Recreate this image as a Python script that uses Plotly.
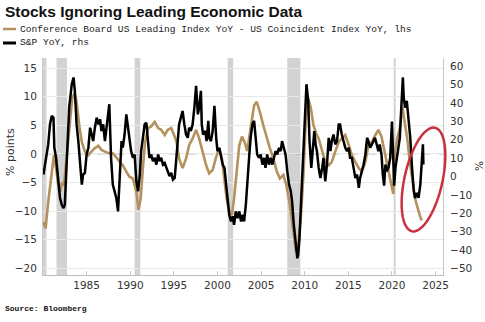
import plotly.graph_objects as go
import math

# ---------------- data ----------------
lead_years = [1980.05, 1980.3, 1980.6, 1980.9, 1981.1, 1981.25, 1981.5, 1981.75, 1981.95, 1982.15, 1982.4, 1982.7,
              1983.0, 1983.35, 1983.6, 1983.85, 1984.15, 1984.45, 1984.8, 1985.2, 1985.55, 1985.95, 1986.35, 1986.7,
              1987.1, 1987.5, 1988.0, 1988.6, 1989.15, 1989.55, 1989.9, 1990.3, 1990.7, 1990.95, 1991.2, 1991.45,
              1991.7, 1992.05, 1992.4, 1992.8, 1993.2, 1993.55, 1993.95, 1994.3, 1994.7, 1995.1, 1995.3, 1995.6,
              1996.0, 1996.4, 1996.75, 1997.15, 1997.55, 1997.9, 1998.3, 1998.7, 1999.05, 1999.45, 1999.8, 2000.2,
              2000.5, 2000.8, 2001.05, 2001.35, 2001.65, 2001.9, 2002.2, 2002.5, 2002.8, 2003.1, 2003.4, 2003.8,
              2004.2, 2004.5, 2004.85, 2005.25, 2005.65, 2006.0, 2006.4, 2006.8, 2007.15, 2007.55, 2007.9, 2008.3,
              2008.7, 2009.0, 2009.2, 2009.55, 2009.85, 2010.1, 2010.4, 2010.7, 2011.0, 2011.3, 2011.6, 2012.0,
              2012.35, 2012.75, 2013.1, 2013.5, 2013.9, 2014.25, 2014.65, 2015.05, 2015.4, 2015.8, 2016.2, 2016.55,
              2016.95, 2017.3, 2017.7, 2018.1, 2018.45, 2018.8, 2019.15, 2019.55, 2019.9, 2020.15, 2020.35, 2020.6,
              2020.9, 2021.2, 2021.45, 2021.75, 2022.05, 2022.35, 2022.65, 2022.95, 2023.3, 2023.45]
lead_minus_coinc = [-11.9, -13.0, -8.4, -4.9, -2.5, -0.2, -2.5, -5.5, -6.6, -5.2, -5.5, -0.8,
                    5.0, 9.7, 10.6, 9.1, 5.0, 2.1, 0.4, -0.2, 0.4, 1.0, 1.4, 0.7,
                    0.4, 0.1, 0.1, -1.1, -2.0, -3.1, -4.0, -4.3, -6.6, -9.8, -7.8, -2.5,
                    2.1, 4.5, 4.8, 5.6, 4.5, 4.2, 3.3, 4.2, 4.5, 3.0, 2.1, -0.8,
                    -2.5, -0.8, 1.5, 2.7, 4.2, 2.7, 0.4, -2.0, -3.4, -2.8, -0.8, 1.0,
                    -0.8, -4.3, -7.8, -10.1, -10.7, -7.8, -2.5, 1.5, 3.0, 2.1, 0.5, 4.5,
                    8.5, 9.1, 7.4, 5.0, 2.7, 1.0, -0.8, -3.1, -4.3, -3.7, -5.5, -9.0,
                    -13.6, -17.1, -16.5, -11.3, -3.7, 5.0, 9.7, 8.0, 5.0, 3.6, 2.7, 0.4,
                    -1.4, -2.0, -1.4, 0.4, 2.1, 2.7, 3.3, 1.5, -0.2, -1.4, -2.5, -3.1,
                    -1.4, 1.5, 2.1, 3.3, 4.2, 3.0, 0.4, -2.0, -4.9, -7.0, 0.4, 2.7,
                    4.5, 8.2, 5.6, 2.7, -1.4, -4.9, -7.8, -9.5, -11.3, -11.6]

spx_years = [1980.05, 1980.25, 1980.4, 1980.6, 1980.8, 1981.0, 1981.2, 1981.3, 1981.5, 1981.75, 1981.95, 1982.15,
             1982.35, 1982.5, 1982.7, 1983.0, 1983.3, 1983.5, 1983.65, 1983.85, 1984.05, 1984.25, 1984.45, 1984.6,
             1984.8, 1985.0, 1985.2, 1985.4, 1985.6, 1985.75, 1985.95, 1986.15, 1986.35, 1986.55, 1986.7, 1986.9,
             1987.1, 1987.3, 1987.6, 1987.8, 1988.0, 1988.2, 1988.4, 1988.6, 1988.8, 1989.0, 1989.15, 1989.35,
             1989.55, 1989.75, 1989.9, 1990.1, 1990.3, 1990.5, 1990.7, 1990.9, 1991.1, 1991.25, 1991.45, 1991.65,
             1991.85, 1992.05, 1992.2, 1992.4, 1992.6, 1992.8, 1993.0, 1993.2, 1993.35, 1993.55, 1993.75, 1993.95,
             1994.15, 1994.35, 1994.5, 1994.7, 1994.9, 1995.1, 1995.3, 1995.45, 1995.6, 1995.8, 1996.0, 1996.2,
             1996.4, 1996.6, 1996.75, 1996.95, 1997.15, 1997.35, 1997.55, 1997.75, 1997.9, 1998.1, 1998.2, 1998.35,
             1998.6, 1998.75, 1998.95, 1999.05, 1999.25, 1999.45, 1999.65, 1999.85, 2000.0, 2000.2, 2000.4, 2000.6,
             2000.8, 2000.95, 2001.15, 2001.35, 2001.55, 2001.75, 2001.9, 2002.1, 2002.3, 2002.5, 2002.7, 2002.9,
             2003.05, 2003.25, 2003.45, 2003.65, 2003.8, 2004.0, 2004.2, 2004.4, 2004.55, 2004.75, 2004.95, 2005.15,
             2005.35, 2005.5, 2005.7, 2005.9, 2006.1, 2006.3, 2006.5, 2006.65, 2006.85, 2007.05, 2007.25, 2007.4,
             2007.6, 2007.8, 2008.0, 2008.2, 2008.4, 2008.55, 2008.75, 2008.95, 2009.15, 2009.25, 2009.4, 2009.6,
             2009.8, 2010.0, 2010.2, 2010.4, 2010.55, 2010.75, 2010.95, 2011.1, 2011.25, 2011.4, 2011.6, 2011.8,
             2012.0, 2012.15, 2012.35, 2012.55, 2012.75, 2012.95, 2013.1, 2013.3, 2013.5, 2013.7, 2013.9, 2014.05,
             2014.25, 2014.45, 2014.65, 2014.85, 2015.05, 2015.2, 2015.4, 2015.6, 2015.8, 2016.0, 2016.2, 2016.35,
             2016.55, 2016.75, 2016.95, 2017.15, 2017.3, 2017.5, 2017.7, 2017.85, 2018.05, 2018.25, 2018.45, 2018.6,
             2018.8, 2018.95, 2019.1, 2019.25, 2019.4, 2019.6, 2019.8, 2020.0, 2020.1, 2020.25, 2020.4, 2020.55,
             2020.7, 2020.9, 2021.05, 2021.25, 2021.35, 2021.5, 2021.7, 2021.9, 2022.1, 2022.3, 2022.5, 2022.65,
             2022.85, 2023.05, 2023.25, 2023.45, 2023.55, 2023.6]
spx_yoy = [1.0, 6.5, 10.2, 17.5, 28.4, 33.0, 32.1, 15.7, 10.2, -2.6, -11.7, -15.4,
           -17.2, -15.4, 6.5, 37.5, 50.3, 54.0, 46.7, 28.4, 19.3, 6.5, -4.4, 1.0,
           2.0, 12.0, 15.7, 26.6, 22.9, 19.3, 26.6, 32.1, 28.4, 31.2, 24.8, 28.4,
           19.3, 28.4, 39.4, 10.2, -4.4, -8.0, -11.7, -19.0, 1.0, 19.3, 15.7, 22.9,
           33.9, 26.6, 21.1, 13.8, 10.2, 12.0, -2.6, -8.0, 1.0, 13.8, 21.1, 28.4,
           29.3, 17.5, 10.2, 12.0, 8.4, 10.2, 6.5, 12.0, 8.4, 10.2, 6.5, 7.4,
           4.7, 1.0, 0.2, 2.0, -1.7, -0.8, 12.0, 19.3, 28.4, 32.1, 35.7, 28.4,
           22.9, 21.1, 26.6, 24.8, 28.4, 37.5, 49.4, 33.9, 37.5, 46.7, 28.4, 22.9,
           24.8, 19.3, 30.3, 21.1, 19.3, 24.8, 38.5, 21.1, 13.8, 15.7, 10.2, 6.5,
           4.7, -4.4, -11.7, -20.9, -24.5, -21.7, -26.3, -19.0, -22.7, -19.0, -24.5, -20.9,
           -24.5, -15.4, 1.0, 12.0, 21.1, 28.4, 30.3, 17.5, 12.0, 10.2, 12.0, 6.5,
           10.2, 4.7, 12.0, 6.5, 10.2, 6.5, 10.2, 13.8, 12.0, 15.7, 13.8, 19.3,
           15.7, 12.0, 2.9, -4.4, -8.0, -13.5, -26.3, -37.3, -44.6, -42.7, -33.6, -11.7,
           10.2, 32.1, 50.3, 41.2, 19.3, 4.7, 17.5, 24.8, 17.5, 13.8, 4.7, -0.8,
           4.7, 10.2, -2.6, 6.5, 21.1, 13.8, 19.3, 22.9, 17.5, 19.3, 28.4, 28.4,
           22.9, 19.3, 15.7, 13.8, 15.7, 10.2, 10.2, 4.7, -0.8, 1.0, -6.2, -0.8,
           2.9, 6.5, 12.0, 21.1, 19.3, 15.7, 17.5, 19.3, 21.1, 17.5, 13.8, 17.5,
           12.0, 1.0, -5.0, 6.5, 2.9, 4.7, 10.2, 30.0, 17.5, -5.0, 4.7, 10.2,
           13.8, 21.1, 35.7, 54.0, 43.0, 37.5, 41.2, 32.1, 21.1, 4.7, -8.0, -11.7,
           -9.0, -11.7, -4.4, 10.2, 17.5, 6.5]

recession_starts = [1980.0, 1981.55, 1990.5, 2001.17, 2008.0, 2020.2]
recession_ends = [1980.4, 1982.75, 1991.15, 2001.8, 2009.5, 2020.42]

x_ticks = [1985, 1990, 1995, 2000, 2005, 2010, 2015, 2020, 2025]
title_text = "Stocks Ignoring Leading Economic Data"
legend_texts = ["Conference Board US Leading Index YoY - US Coincident Index YoY, lhs", "S&P YoY, rhs"]
source_text = "Source: Bloomberg"

# ---------------- layout geometry ----------------
W, H = 485, 322
L, R, T, B = 43, 443, 58, 275   # plot area in pixels


def px(x):
    return (x - L) / (R - L)


def py(y):
    return (B - y) / (B - T)


BROWN = "#B4915F"
TICKFONT = dict(family="DejaVu Sans", size=10.5, color="#333333")

fig = go.Figure()
fig.add_trace(go.Scatter(x=lead_years, y=lead_minus_coinc, mode="lines",
                         line=dict(color=BROWN, width=2.6), yaxis="y", showlegend=False))
fig.add_trace(go.Scatter(x=spx_years, y=spx_yoy, mode="lines",
                         line=dict(color="#000000", width=2.5), yaxis="y2", showlegend=False))

shapes = []
for s, e in zip(recession_starts, recession_ends):
    shapes.append(dict(type="rect", xref="x", yref="paper", x0=s, x1=e, y0=0, y1=1,
                       fillcolor="#D2D2D2", line=dict(width=0), layer="below"))
# zero line
shapes.append(dict(type="line", xref="paper", yref="y", x0=0, x1=1, y0=0, y1=0,
                   line=dict(color="#9A9A9A", width=1, dash="dash"), layer="below"))
# legend swatches
shapes.append(dict(type="line", xref="paper", yref="paper", x0=px(3), x1=px(16), y0=py(29), y1=py(29),
                   line=dict(color=BROWN, width=2.5)))
shapes.append(dict(type="line", xref="paper", yref="paper", x0=px(3), x1=px(16), y0=py(43), y1=py(43),
                   line=dict(color="#000000", width=3)))

# red ellipse (pixel geometry -> paper)
cx, cy, a, b = 423.5, 179.5, 53, 19
ang = math.radians(12.6)
pts = []
for i in range(73):
    t = 2 * math.pi * i / 72
    ex = b * math.cos(t)
    ey = a * math.sin(t)
    X = cx + ex * math.cos(ang) + ey * math.sin(ang)
    Y = cy + ex * math.sin(ang) - ey * math.cos(ang)
    pts.append((px(X), py(Y)))
path = "M " + " L ".join(f"{x:.5f},{y:.5f}" for x, y in pts) + " Z"
shapes.append(dict(type="path", xref="paper", yref="paper", path=path,
                   line=dict(color="#C8323F", width=2.5)))

annotations = [
    dict(text=f"<b>{title_text}</b>", x=px(3), y=py(11.5), xref="paper", yref="paper",
         xanchor="left", yanchor="middle", showarrow=False,
         font=dict(family="Liberation Sans", size=15.5, color="#111111")),
    dict(text=legend_texts[0], x=px(18), y=py(29), xref="paper", yref="paper",
         xanchor="left", yanchor="middle", showarrow=False,
         font=dict(family="Liberation Mono", size=9.6, color="#222222")),
    dict(text=legend_texts[1].replace("&", "&amp;"), x=px(18), y=py(43), xref="paper", yref="paper",
         xanchor="left", yanchor="middle", showarrow=False,
         font=dict(family="Liberation Mono", size=9.6, color="#222222")),
    dict(text=f"<b>{source_text}</b>", x=px(3), y=py(308), xref="paper", yref="paper",
         xanchor="left", yanchor="middle", showarrow=False,
         font=dict(family="Liberation Mono", size=8, color="#111111")),
    dict(text="% points", x=px(10), y=py(152), xref="paper", yref="paper", textangle=-90,
         xanchor="center", yanchor="middle", showarrow=False,
         font=dict(family="DejaVu Sans", size=11, color="#333333")),
    dict(text="%", x=px(479), y=py(166), xref="paper", yref="paper", textangle=-90,
         xanchor="center", yanchor="middle", showarrow=False,
         font=dict(family="DejaVu Sans", size=10.5, color="#333333")),
]

fig.update_layout(
    width=W, height=H,
    margin=dict(l=L, r=W - R, t=T, b=H - B, pad=0),
    paper_bgcolor="white", plot_bgcolor="white",
    showlegend=False,
    shapes=shapes, annotations=annotations,
    xaxis=dict(range=[1980.0, 2025.85], tickvals=x_ticks, ticks="inside", ticklen=4,
               tickcolor="#C8C8C8", showgrid=False, zeroline=False, showline=True,
               linecolor="#BEBEBE", linewidth=1, tickfont=TICKFONT),
    yaxis=dict(range=[-21.17, 16.75], dtick=5, tick0=0, showgrid=True, gridcolor="#E8E8E8",
               gridwidth=1, zeroline=False, showline=True, linecolor="#C8C8C8", ticks="",
               tickfont=TICKFONT, ticklabelstandoff=3),
    yaxis2=dict(range=[-53.7, 64.6], dtick=10, tick0=0, overlaying="y", side="right",
                showgrid=False, zeroline=False, showline=True, linecolor="#C8C8C8", ticks="",
                tickfont=TICKFONT, ticklabelstandoff=4),
)

fig.write_html("out.html")
